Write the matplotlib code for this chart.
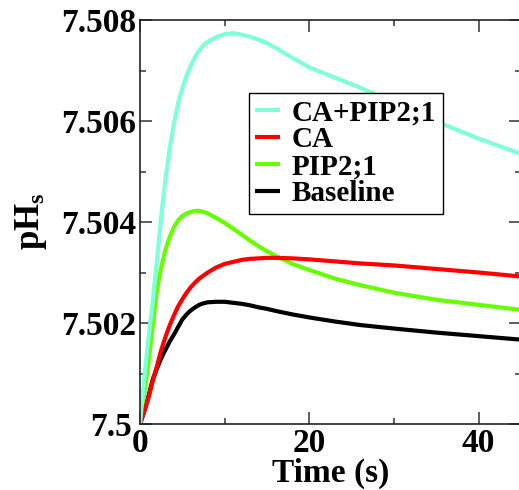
import matplotlib
matplotlib.use("Agg")
import matplotlib.pyplot as plt
from matplotlib.ticker import FixedLocator, MultipleLocator
from matplotlib.transforms import ScaledTranslation

plt.rcParams['font.family'] = ['Liberation Serif', 'DejaVu Serif']
plt.rcParams['font.weight'] = 'bold'
plt.rcParams['mathtext.fontset'] = 'custom'
plt.rcParams['mathtext.rm'] = 'Liberation Serif:bold'
plt.rcParams['mathtext.bf'] = 'Liberation Serif:bold'
plt.rcParams['mathtext.it'] = 'Liberation Serif:bold'

# time (s)
time = [0, 0.5, 1, 1.5, 2, 2.5, 3, 3.5, 4, 4.5, 5, 5.5, 6, 6.5, 7, 7.5, 8, 9,
        10, 11, 12, 13, 14, 15, 16, 18, 20, 23, 26, 30, 35, 40, 45]

# pH_s offsets above 7.5, in units of 0.001
ca_pip = [0, 0.9, 1.7, 2.42, 3.25, 4.1, 4.85, 5.45, 5.95, 6.35, 6.65, 6.9, 7.1,
          7.27, 7.4, 7.5, 7.57, 7.66, 7.72, 7.74, 7.71, 7.67, 7.61, 7.54, 7.45,
          7.25, 7.06, 6.86, 6.66, 6.36, 5.99, 5.65, 5.35]
ca = [0, 0.25, 0.52, 0.85, 1.15, 1.46, 1.72, 1.95, 2.15, 2.33, 2.47, 2.6, 2.71,
      2.8, 2.88, 2.94, 3.0, 3.1, 3.17, 3.21, 3.25, 3.27, 3.28, 3.29, 3.29,
      3.28, 3.26, 3.22, 3.18, 3.14, 3.07, 3.0, 2.92]
pip = [0, 0.6, 1.2, 1.95, 2.65, 3.1, 3.45, 3.7, 3.9, 4.03, 4.12, 4.17, 4.2,
       4.22, 4.22, 4.2, 4.17, 4.08, 3.98, 3.87, 3.75, 3.63, 3.52, 3.42, 3.33,
       3.17, 3.05, 2.88, 2.75, 2.6, 2.46, 2.36, 2.26]
baseline = [0, 0.25, 0.55, 0.88, 1.1, 1.3, 1.47, 1.63, 1.77, 1.92, 2.07, 2.17,
            2.25, 2.31, 2.36, 2.39, 2.41, 2.42, 2.42, 2.4, 2.38, 2.35, 2.31,
            2.28, 2.24, 2.17, 2.11, 2.03, 1.96, 1.89, 1.81, 1.74, 1.67]

series = [
    ("Baseline", baseline, "#000000"),
    ("PIP2;1", pip, "#66FF00"),
    ("CA", ca, "#FF0000"),
    ("CA+PIP2;1", ca_pip, "#7FFFDC"),
]
legend_order = ["CA+PIP2;1", "CA", "PIP2;1", "Baseline"]

ytick_vals = [7.5, 7.502, 7.504, 7.506, 7.508]
ytick_labels = ["7.5", "7.502", "7.504", "7.506", "7.508"]
xtick_vals = [0, 20, 40]
xtick_labels = ["0", "20", "40"]

fig = plt.figure(figsize=(5.19, 4.90), dpi=100)
ax = fig.add_axes([140/519, 1-424/490, 381/519, 404/490])

handles = {}
for name, vals, col in series:
    y = [7.5 + v * 0.001 for v in vals]
    h, = ax.plot(time, y, color=col, lw=3.0, solid_capstyle='butt',
                 solid_joinstyle='round')
    handles[name] = h

ax.set_xlim(0, 45)
ax.set_ylim(7.5, 7.508)
ax.xaxis.set_major_locator(FixedLocator(xtick_vals))
ax.set_xticklabels(xtick_labels)
ax.xaxis.set_minor_locator(MultipleLocator(10))
ax.yaxis.set_major_locator(FixedLocator(ytick_vals))
ax.set_yticklabels(ytick_labels)
ax.yaxis.set_minor_locator(MultipleLocator(0.001))

ax.tick_params(which='both', direction='in', top=True, right=True,
               color='#333333', width=1.1)
ax.tick_params(which='major', length=8.5, labelsize=24)
ax.tick_params(which='minor', length=4.3)
ax.tick_params(axis='y', which='major', pad=3)
ax.tick_params(axis='x', which='major', pad=3)
for lab in ax.get_xticklabels() + ax.get_yticklabels():
    lab.set_fontweight('bold')
# shift the bottom "7.5" label a little left so it clears the "0"
first = ax.get_yticklabels()[0]
first.set_transform(first.get_transform() +
                    ScaledTranslation(-4/100, 0, fig.dpi_scale_trans))
for sp in ax.spines.values():
    sp.set_linewidth(1.2)
    sp.set_color('#222222')

leg = ax.legend([handles[n] for n in legend_order], legend_order,
                loc='upper left', bbox_to_anchor=((249-140)/381, (424-93)/404),
                borderaxespad=0, frameon=True, fancybox=False, framealpha=1,
                edgecolor='black', prop={'family': 'Liberation Serif',
                                         'weight': 'bold', 'size': 21},
                handlelength=0.85, handletextpad=0.4, labelspacing=0.0,
                borderpad=0.22)
leg.get_frame().set_linewidth(1.0)

fig.text(31/519, 1-221/490, r'$\mathbf{pH}_{\mathbf{s}}$', rotation=90,
         ha='center', va='center', fontsize=25)
fig.text(331/519, 1-473/490, "Time (s)", ha='center', va='center',
         fontsize=24, fontweight='bold')

fig.savefig("out.png", dpi=100)
